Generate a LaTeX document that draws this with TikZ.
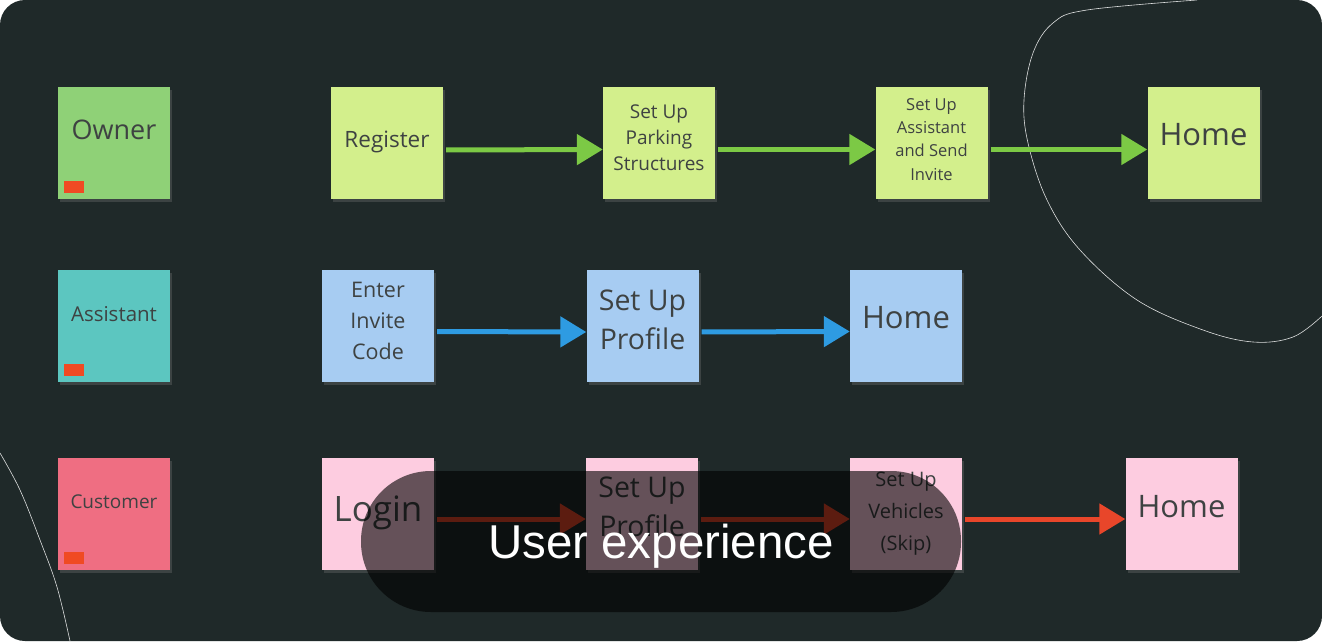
\documentclass[tikz,border=0pt]{standalone}
\usepackage{fontspec}
\newfontfamily\notefont{Open Sans}
\newfontfamily\uxfont{Liberation Sans}
\usetikzlibrary{arrows.meta,shadows}
\definecolor{bgdark}{HTML}{1F2929}
\definecolor{ownerc}{HTML}{8FD177}
\definecolor{limec}{HTML}{D3EF8C}
\definecolor{tealc}{HTML}{5CC6C0}
\definecolor{bluec}{HTML}{A7CCF2}
\definecolor{customerc}{HTML}{EF6E82}
\definecolor{pinkc}{HTML}{FDCCE0}
\definecolor{tagc}{HTML}{F04A23}
\definecolor{greenarr}{HTML}{7CC945}
\definecolor{bluearr}{HTML}{2E9BE2}
\definecolor{redarr}{HTML}{E8462A}
\definecolor{notetext}{HTML}{3E4242}
\newcommand{\uptext}[2]{\raisebox{#1}[\height][\depth]{\begin{tabular}{@{}c@{}}#2\end{tabular}}}
\tikzset{
  note/.style={minimum width=112pt, minimum height=112pt, inner sep=0pt,
    align=center, text=notetext,
    drop shadow={opacity=0.3, shadow xshift=2pt, shadow yshift=-3pt}},
  tagbox/.style={fill=tagc, minimum width=20pt, minimum height=12pt, inner sep=0pt},
  flow/.style={line width=5pt, shorten <=3pt,
    -{Triangle[length=26pt, width=30pt]}},
  fs/.style 2 args={font=\notefont\fontsize{#1}{#2}\selectfont}
}
\begin{document}
\begin{tikzpicture}[x=1pt, y=-1pt]
\useasboundingbox (0,0) rectangle (1322,643);
\fill[white] (0,0) rectangle (1322,643);
\fill[bgdark, rounded corners=25pt] (0,0) rectangle (1322,641);

% decorative curves
\draw[white, line width=0.6pt, opacity=0.85] plot[smooth, tension=0.6] coordinates
  {(1197,0) (1087,10) (1053,23) (1033,53) (1024,100) (1028,143) (1047,200) (1080,250) (1137,300) (1203,330) (1253,342) (1293,337) (1322,316)};
\draw[white, line width=0.6pt, opacity=0.85] plot[smooth, tension=0.6] coordinates
  {(0,453) (20,490) (40,540) (57,587) (70,641)};

% row 1: owner
\node[note, fill=ownerc, fs={27}{32}] (owner) at (114,142.5) {\uptext{9pt}{Owner}};
\node[tagbox] (ownertag) at (74,187) {};
\node[note, fill=limec, fs={22.5}{28}] (register) at (387,143) {\uptext{1pt}{Register}};
\node[note, fill=limec, fs={19}{26}] (parking) at (659,142.5) {\uptext{3pt}{Set Up\\Parking\\Structures}};
\node[note, fill=limec, fs={16.5}{23.3}] (assist) at (931.5,142.5) {\uptext{2pt}{Set Up\\Assistant\\and Send\\Invite}};
\node[note, fill=limec, fs={31}{36}] (home1) at (1203.5,142.5) {\uptext{4pt}{Home}};
\draw[flow, greenarr] ([yshift=-7pt]register.east) -- ([yshift=-7pt]parking.west);
\draw[flow, greenarr] ([yshift=-7pt]parking.east) -- ([yshift=-7pt]assist.west);
\draw[flow, greenarr] ([yshift=-7pt]assist.east) -- ([yshift=-7pt]home1.west);

% row 2: assistant
\node[note, fill=tealc, fs={20.5}{26}] (assistant) at (114,326) {\uptext{10pt}{Assistant}};
\node[tagbox] (assistanttag) at (74,370) {};
\node[note, fill=bluec, fs={21.5}{31}] (invite) at (378,325.5) {\uptext{3pt}{Enter\\Invite\\Code}};
\node[note, fill=bluec, fs={28.5}{39}] (profile2) at (642.5,326) {\uptext{3.5pt}{Set Up\\Profile}};
\node[note, fill=bluec, fs={31}{36}] (home2) at (906,325.5) {\uptext{4pt}{Home}};
\draw[flow, bluearr] ([yshift=-6pt]invite.east) -- ([yshift=-6pt]profile2.west);
\draw[flow, bluearr] ([yshift=-6pt]profile2.east) -- ([yshift=-6pt]home2.west);

% row 3: customer
\node[note, fill=customerc, fs={19}{24}] (customer) at (114,514) {\uptext{10pt}{Customer}};
\node[tagbox] (customertag) at (74,558) {};
\node[note, fill=pinkc, fs={35}{40}] (login) at (378,514) {\uptext{1pt}{Login}};
\node[note, fill=pinkc, fs={28.5}{39}] (profile3) at (642,514) {\uptext{5pt}{Set Up\\Profile}};
\node[note, fill=pinkc, fs={20}{32}] (vehicles) at (906,514) {Set Up\\Vehicles\\(Skip)};
\node[note, fill=pinkc, fs={31}{36}] (home3) at (1181.5,514) {\uptext{4pt}{Home}};
\draw[flow, redarr] ([yshift=-5pt]login.east) -- ([yshift=-5pt]profile3.west);
\draw[flow, redarr] ([yshift=-5pt]profile3.east) -- ([yshift=-5pt]vehicles.west);
\draw[flow, redarr] ([yshift=-5pt]vehicles.east) -- ([yshift=-5pt]home3.west);

% overlay caption
\node[fill=black, fill opacity=0.6, text opacity=1, text=white,
  minimum width=600pt, minimum height=141pt, rounded corners=70pt,
  font=\uxfont\fontsize{47.5}{52}\selectfont] (ux) at (661,541.5) {\raisebox{-5pt}[\height][\depth]{User experience}};
\end{tikzpicture}
\end{document}
